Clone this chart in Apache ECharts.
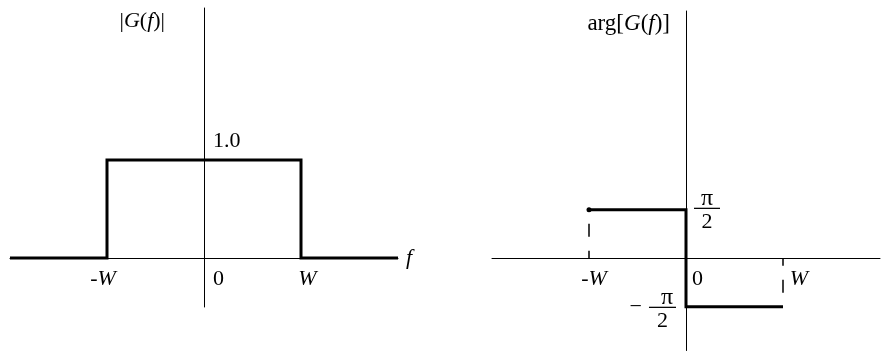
<!DOCTYPE html>
<html>
<head>
<meta charset="utf-8">
<script src="https://cdn.jsdelivr.net/npm/echarts@6/dist/echarts.min.js"></script>
<style>
  html, body { margin: 0; padding: 0; background: #fff; }
  #chart { width: 886px; height: 351px; }
</style>
</head>
<body>
<div id="chart"></div>
<script>
// pi / 2 in radians
const HALF_PI = 1.5708;

// |G(f)|: rectangular magnitude spectrum, frequency in units of W
const magFreq = [-2, -1, -1, 1, 1, 2];
const magValue = [0, 0, 1, 1, 0, 0];

// arg[G(f)]: phase spectrum in radians
const phaseFreq = [-1, 0, 0, 1];
const phaseValue = [HALF_PI, HALF_PI, -HALF_PI, -HALF_PI];

// dashed drop lines at the band edges
const guideFreq = [-1, 1];
const guideValue = [HALF_PI, -HALF_PI];

// tick positions and labels
const freqTicks = [-1, 0, 1];
const freqTickText = ['-W', '0', 'W'];
const magTicks = [1];
const magTickText = ['1.0'];
const phaseTicks = [HALF_PI, -HALF_PI];
const phaseTickText = ['π/2', '−π/2'];

const FONT = "'Liberation Serif', 'Times New Roman', serif";
const INK = '#000';
const FS = 22;
const base = { fontFamily: FONT, fontSize: FS, color: INK, lineHeight: FS, textBorderWidth: 0 };
const italic = Object.assign({}, base, { fontStyle: 'italic' });
const bigBase = Object.assign({}, base, { fontSize: 23, lineHeight: 23 });
const bigItalic = Object.assign({}, bigBase, { fontStyle: 'italic' });

// tick label as rich text: the W is set in italics
function freqRich(text) {
  return text.replace(/W/g, '{i|W}').replace(/^(-?)(\d*)/, function (m, s, d) {
    return (s ? '{u|' + s + '}' : '') + (d ? '{u|' + d + '}' : '');
  });
}

// stacked fraction for the phase ticks
function fracRich(text) {
  const neg = text.charAt(0) === '−';
  const parts = text.replace('−', '').split('/');
  return '{n|' + parts[0] + '}\n' + (neg ? '{m|−}' : '') + '{hr|}\n{d|' + parts[1] + '}';
}

const piStyle = Object.assign({}, base, { fontSize: 24, lineHeight: 14 });
const fracStyleUp = {
  n: Object.assign({}, piStyle, { align: 'center' }),
  hr: { width: 26, height: 0, borderWidth: 1, borderColor: INK, lineHeight: 6, align: 'center' },
  d: Object.assign({}, base, { align: 'center' })
};
const fracStyleDown = {
  n: Object.assign({}, piStyle, { align: 'right', padding: [0, 3, 0, 0] }),
  m: Object.assign({}, base, { lineHeight: 6, align: 'right', padding: [0, 7, 0, 0] }),
  hr: { width: 27, height: 0, borderWidth: 1, borderColor: INK, lineHeight: 6, align: 'right' },
  d: Object.assign({}, base, { align: 'right', padding: [0, 8, 0, 0] })
};

function plainAxis(extra) {
  return Object.assign({
    type: 'value',
    axisLine: { onZero: true, lineStyle: { color: INK, width: 1 } },
    axisTick: { show: false },
    axisLabel: { show: false },
    splitLine: { show: false }
  }, extra);
}

// invisible anchor points that carry text labels
function labelSeries(xi, yi, points, label) {
  return {
    type: 'scatter', xAxisIndex: xi, yAxisIndex: yi, silent: true,
    symbolSize: 0.01, itemStyle: { color: 'rgba(0,0,0,0)', opacity: 1 },
    data: points, label: Object.assign({ show: true, color: INK, opacity: 1, textBorderWidth: 0 }, label), z: 5
  };
}

const leftFreqShift = [-4, 14.5, 6.5];
const rightFreqShift = [5, 11.5, 16];

const thick = { color: INK, width: 3, join: 'miter', cap: 'butt' };

const option = {
  backgroundColor: '#fff',
  animation: false,
  grid: [
    { left: 10, top: 8, width: 388, height: 299, outerBoundsMode: 'none' },
    { left: 492, top: 11, width: 388, height: 339.5, outerBoundsMode: 'none' }
  ],
  xAxis: [
    plainAxis({
      gridIndex: 0, min: -2, max: 2,
      name: 'f', nameLocation: 'end', nameGap: 8,
      nameTextStyle: Object.assign({}, italic, { verticalAlign: 'middle' })
    }),
    plainAxis({ gridIndex: 1, min: -2, max: 2 })
  ],
  yAxis: [
    plainAxis({
      gridIndex: 0, min: -0.5, max: 2.55,
      name: '|{i|G}({i|f})|', nameLocation: 'end', nameGap: -13,
      nameTextStyle: Object.assign({}, base, {
        align: 'right', verticalAlign: 'middle', padding: [0, 39, 0, 0],
        rich: { i: italic }
      })
    }),
    plainAxis({
      gridIndex: 1, min: -1.9 * HALF_PI, max: 5.1 * HALF_PI,
      name: 'arg[{i|G}({i|f})]', nameLocation: 'end', nameGap: -13,
      nameTextStyle: Object.assign({}, bigBase, {
        align: 'right', verticalAlign: 'middle', padding: [0, 16, 0, 0],
        rich: { i: bigItalic }
      })
    })
  ],
  series: [
    {
      type: 'line', xAxisIndex: 0, yAxisIndex: 0, silent: true, clip: false,
      symbol: 'none',
      data: magFreq.map((f, i) => [f, magValue[i]]),
      lineStyle: thick, z: 3
    },
    {
      type: 'line', xAxisIndex: 1, yAxisIndex: 1, silent: true, clip: false,
      symbol: 'none', showSymbol: true,
      data: phaseFreq.map((f, i) => i === 0
        ? { value: [f, phaseValue[i]], symbol: 'circle', symbolSize: 5 }
        : [f, phaseValue[i]]),
      itemStyle: { color: INK },
      lineStyle: thick, z: 3
    },
    // frequency tick labels, left panel
    labelSeries(0, 0, freqTicks.map((f, i) => ({ value: [f, 0], label: { offset: [leftFreqShift[i], 0] } })), {
      position: 'bottom', distance: 10,
      formatter: p => freqRich(freqTickText[p.dataIndex]),
      rich: { u: base, i: italic }
    }),
    // frequency tick labels, right panel
    labelSeries(1, 1, freqTicks.map((f, i) => ({ value: [f, 0], label: { offset: [rightFreqShift[i], 0] } })), {
      position: 'bottom', distance: 10,
      formatter: p => freqRich(freqTickText[p.dataIndex]),
      rich: { u: base, i: italic }
    }),
    // magnitude tick label
    labelSeries(0, 0, magTicks.map(v => [0, v]), {
      position: 'right', distance: 9, offset: [0, -18.5],
      formatter: p => magTickText[p.dataIndex],
      fontFamily: FONT, fontSize: FS, lineHeight: FS
    }),
    // phase tick labels
    labelSeries(1, 1, [
      { value: [0, phaseTicks[0]], label: { position: 'right', distance: 8, offset: [0, 2.5], rich: fracStyleUp } },
      { value: [0, phaseTicks[1]], label: { position: 'left', distance: 10, offset: [0, 4.5], rich: fracStyleDown } }
    ], {
      formatter: p => fracRich(phaseTickText[p.dataIndex])
    })
  ].concat(guideFreq.map((f, i) => ({
    type: 'line', xAxisIndex: 1, yAxisIndex: 1, silent: true, clip: false,
    symbol: 'none',
    data: [[f, guideValue[i]], [f, 0]],
    lineStyle: { color: INK, width: 1.5, type: [13, 14], dashOffset: 13 }
  })))
};

const chart = echarts.init(document.getElementById('chart'), null, { renderer: 'canvas' });
chart.setOption(option);
</script>
</body>
</html>
